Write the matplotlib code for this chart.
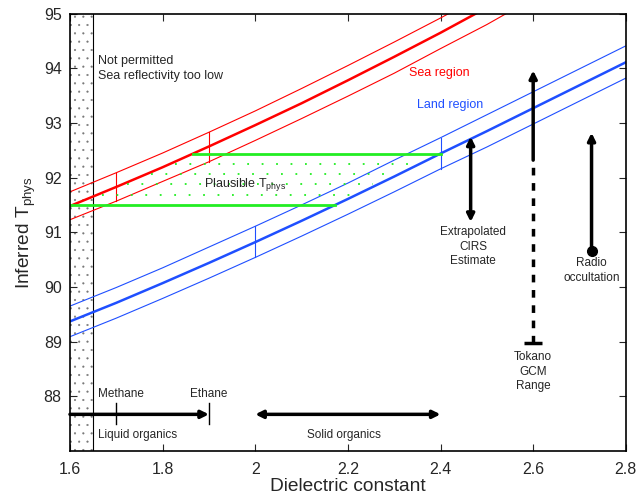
import numpy as np
import matplotlib
matplotlib.use("Agg")
import matplotlib.pyplot as plt

plt.rcParams['font.family'] = ['Liberation Sans', 'DejaVu Sans']
plt.rcParams['hatch.linewidth'] = 0.3

# dielectric constant grid where the curves were read
eps_sea = [1.6, 1.7, 1.8, 1.9, 2.0, 2.1, 2.2, 2.3, 2.4, 2.5, 2.6]
sea_T = [91.48, 91.83, 92.19, 92.57, 92.96, 93.36, 93.78, 94.21, 94.65, 95.11, 95.58]
sea_hi = [91.74, 92.09, 92.45, 92.83, 93.22, 93.63, 94.05, 94.48, 94.92, 95.38, 95.85]
sea_lo = [91.23, 91.57, 91.93, 92.29, 92.68, 93.08, 93.49, 93.91, 94.36, 94.80, 95.28]

eps_land = [1.6, 1.7, 1.8, 1.9, 2.0, 2.1, 2.2, 2.3, 2.4, 2.5, 2.6, 2.7, 2.8]
land_T = [89.37, 89.71, 90.07, 90.44, 90.82, 91.21, 91.61, 92.02, 92.44, 92.85, 93.27, 93.69, 94.11]
land_hi = [89.65, 89.99, 90.35, 90.73, 91.11, 91.50, 91.90, 92.32, 92.73, 93.15, 93.57, 93.99, 94.41]
land_lo = [89.09, 89.43, 89.79, 90.16, 90.54, 90.93, 91.33, 91.74, 92.16, 92.56, 92.98, 93.40, 93.82]

sea_marks = [1.7, 1.9]      # methane / ethane
land_marks = [2.0, 2.4]     # solid organics range
eps_min = 1.65              # sea reflectivity limit
T_plaus = [91.5, 92.44]

cirs_x, cirs_T = 2.465, [91.19, 92.75]
tokano_x, tokano_T = 2.60, [88.98, 92.32, 93.96]
radio_x, radio_T = 2.726, [90.66, 92.82]

RED = '#ff0000'
BLUE = '#1f4fff'
GREEN = '#22ee22'
TXT = '#262626'

fig = plt.figure(figsize=(6.36, 4.97), dpi=100)
ax = fig.add_axes([0.110, 0.0926, 0.874, 0.880])

# forbidden band
ax.axvspan(1.6, eps_min, facecolor='white', edgecolor='#777777', hatch='..', lw=0, zorder=0)
ax.axvline(eps_min, color='k', lw=0.8)

# sea curves
ax.plot(eps_sea, sea_T, color=RED, lw=1.8)
ax.plot(eps_sea, sea_hi, color=RED, lw=0.8)
ax.plot(eps_sea, sea_lo, color=RED, lw=0.8)
for e in sea_marks:
    ax.plot([e, e], [np.interp(e, eps_sea, sea_lo), np.interp(e, eps_sea, sea_hi)], color=RED, lw=0.8)

# land curves
ax.plot(eps_land, land_T, color=BLUE, lw=1.8)
ax.plot(eps_land, land_hi, color=BLUE, lw=0.8)
ax.plot(eps_land, land_lo, color=BLUE, lw=0.8)
for e in land_marks:
    ax.plot([e, e], [np.interp(e, eps_land, land_lo), np.interp(e, eps_land, land_hi)], color=BLUE, lw=0.8)

# plausible region
lo, hi = T_plaus
ax.plot([1.6, np.interp(lo, land_T, eps_land)], [lo, lo], color=GREEN, lw=2)
ax.plot([np.interp(hi, sea_T, eps_sea), np.interp(hi, land_T, eps_land)], [hi, hi], color=GREEN, lw=2)
for t in np.linspace(lo, hi, 6)[1:-1]:
    ax.plot([np.interp(t, sea_T, eps_sea) + 0.01, np.interp(t, land_T, eps_land) - 0.01], [t, t],
            color=GREEN, lw=1.3, linestyle=(0, (1, 7)))

# measurements
arrow = dict(color='k', lw=2.5, mutation_scale=11, shrinkA=0, shrinkB=0)
ax.annotate('', xy=(cirs_x, cirs_T[1]), xytext=(cirs_x, cirs_T[0]), arrowprops=dict(arrowstyle='<|-|>', **arrow))
ax.plot([tokano_x, tokano_x], tokano_T[:2], color='k', lw=2.5, linestyle=(0, (2.2, 2.2)))
ax.plot(tokano_x, tokano_T[0], marker='_', color='k', ms=13, mew=2.5)
ax.annotate('', xy=(tokano_x, tokano_T[2]), xytext=(tokano_x, tokano_T[1]), arrowprops=dict(arrowstyle='-|>', **arrow))
ax.annotate('', xy=(radio_x, radio_T[1]), xytext=(radio_x, radio_T[0]), arrowprops=dict(arrowstyle='-|>', **arrow))
ax.plot(radio_x, radio_T[0], 'o', color='k', ms=7)

# organics ranges
ax.annotate('', xy=(1.6, 87.67), xytext=(sea_marks[1], 87.67), arrowprops=dict(arrowstyle='<|-', **arrow))
for e in sea_marks:
    ax.plot([e, e], [87.5, 87.88], color='k', lw=1)
ax.annotate('', xy=(land_marks[0], 87.67), xytext=(land_marks[1], 87.67), arrowprops=dict(arrowstyle='<|-|>', **arrow))

fs = 8.5
ax.text(1.66, 94.0, 'Not permitted\nSea reflectivity too low', fontsize=fs + 0.5, color=TXT, va='center', linespacing=1.3)
ax.text(2.397, 93.92, 'Sea region', fontsize=fs + 0.5, color=RED, ha='center', va='center')
ax.text(2.42, 93.33, 'Land region', fontsize=fs + 0.5, color=BLUE, ha='center', va='center')
ax.text(1.89, 91.88, 'Plausible T$_{\\mathregular{phys}}$', fontsize=fs + 0.5, color=TXT, va='center')
ax.text(cirs_x + 0.005, 90.74, 'Extrapolated\nCIRS\nEstimate', fontsize=fs, color=TXT, ha='center', va='center', linespacing=1.3)
ax.text(tokano_x, 88.45, 'Tokano\nGCM\nRange', fontsize=fs, color=TXT, ha='center', va='center', linespacing=1.3)
ax.text(radio_x, 90.3, 'Radio\noccultation', fontsize=fs, color=TXT, ha='center', va='center', linespacing=1.3)
ax.text(1.711, 88.04, 'Methane', fontsize=fs, color=TXT, ha='center', va='center')
ax.text(1.899, 88.04, 'Ethane', fontsize=fs, color=TXT, ha='center', va='center')
ax.text(1.66, 87.3, 'Liquid organics', fontsize=fs, color=TXT, va='center')
ax.text(2.192, 87.3, 'Solid organics', fontsize=fs, color=TXT, ha='center', va='center')

ax.set_xlim(1.6, 2.8)
ax.set_ylim(87, 95)
ax.set_xticks([1.6, 1.8, 2.0, 2.2, 2.4, 2.6, 2.8])
ax.set_xticklabels(['1.6', '1.8', '2', '2.2', '2.4', '2.6', '2.8'])
ax.set_yticks(range(88, 96))
ax.tick_params(direction='in', top=True, right=True, length=5, labelsize=11.5, colors=TXT, pad=6)
ax.tick_params(axis='x', pad=8)
for s in ax.spines.values():
    s.set_linewidth(1.2)
ax.set_xlabel('Dielectric constant', fontsize=13.8, color=TXT, labelpad=1)
ax.set_ylabel('Inferred T$_{\\mathregular{phys}}$', fontsize=13.8, color=TXT, labelpad=4)

fig.savefig('out.png', dpi=100)
